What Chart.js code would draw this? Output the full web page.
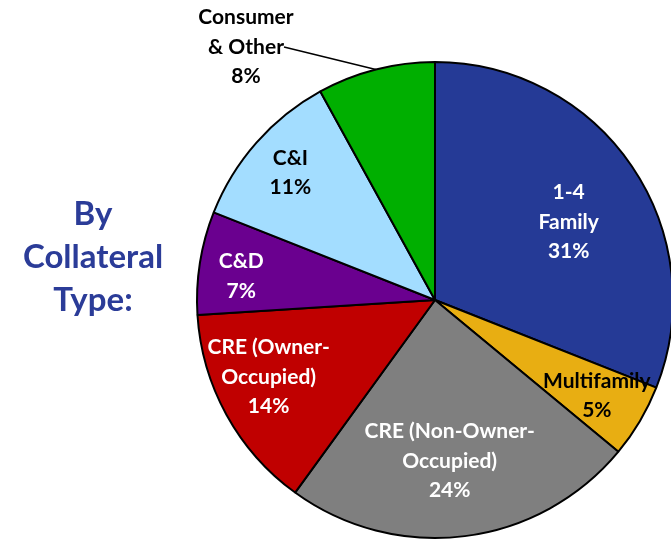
<!DOCTYPE html>
<html>
<head>
<meta charset="utf-8">
<script src="https://cdn.jsdelivr.net/npm/chart.js@4"></script>
<style>
    html, body { margin: 0; padding: 0; background: #ffffff; overflow: hidden; }
    #wrap { width: 680px; height: 540px; }
</style>
</head>
<body>
<div id="wrap"><canvas id="myChart" width="680" height="540"></canvas></div>
<script>
// slice data, clockwise from 12 o'clock
var labels = [['1-4', 'Family'], ['Multifamily'], ['CRE (Non-Owner-', 'Occupied)'], ['CRE (Owner-', 'Occupied)'], ['C&D'], ['C&I'], ['Consumer', '& Other']];
var shares = [31, 5, 24, 14, 7, 11, 8];
var sliceColors = ['#253A96', '#E8AE12', '#7F7F7F', '#C00000', '#6A008F', '#A3DDFF', '#00AF00'];
var textColors = ['#ffffff', '#000000', '#ffffff', '#ffffff', '#ffffff', '#000000', '#000000'];
var labelRadius = [0.65, 0.79, 0.68, 0.77, 0.82, 0.81, 1.0];
var labelTurn = [4, 0, 2, 4, -2, 0, 0];
var titleLines = ['By', 'Collateral', 'Type:'];

var FONT = 'bold 21px Lato, "Open Sans", sans-serif';
var LINE = 29.5;

var sliceLabels = {
    id: 'sliceLabels',
    afterDatasetsDraw: function (chart) {
        var c = chart.ctx;
        var arcs = chart.getDatasetMeta(0).data;
        c.save();
        c.font = FONT;
        c.textAlign = 'center';
        c.textBaseline = 'middle';
        arcs.forEach(function (arc, i) {
            var p = arc.getProps(['x', 'y', 'startAngle', 'endAngle', 'outerRadius']);
            var mid = (p.startAngle + p.endAngle) / 2 + labelTurn[i] * Math.PI / 180;
            var lines = labels[i].concat([shares[i] + '%']);
            var cx, cy;
            if (i === labels.length - 1) {
                // outside label with leader line
                var ex = p.x + Math.cos(mid) * p.outerRadius;
                var ey = p.y + Math.sin(mid) * p.outerRadius;
                cx = 246; cy = 47;
                c.strokeStyle = '#000000';
                c.lineWidth = 1.5;
                c.beginPath();
                c.moveTo(ex, ey);
                c.lineTo(cx + 38, cy);
                c.stroke();
            } else {
                var r = p.outerRadius * labelRadius[i];
                cx = p.x + Math.cos(mid) * r;
                cy = p.y + Math.sin(mid) * r;
            }
            c.fillStyle = textColors[i];
            var top = cy - (lines.length - 1) * LINE / 2;
            lines.forEach(function (t, k) {
                c.fillText(t, cx, top + k * LINE);
            });
        });

        // side heading
        c.font = 'bold 33px Lato, "Open Sans", sans-serif';
        c.fillStyle = '#2B3C98';
        titleLines.forEach(function (t, k) {
            c.fillText(t, 93, 214 + k * 43);
        });
        c.restore();
    }
};

var ctx = document.getElementById('myChart').getContext('2d');
var myChart = new Chart(ctx, {
    type: 'pie',
    data: {
        labels: labels.map(function (l) { return l.join(' '); }),
        datasets: [{
            data: shares,
            backgroundColor: sliceColors,
            borderColor: '#000000',
            borderWidth: 2
        }]
    },
    options: {
        responsive: false,
        animation: false,
        radius: 238,
        layout: {
            padding: { left: 197, right: 7, top: 62, bottom: 2 }
        },
        plugins: {
            legend: { display: false },
            tooltip: { enabled: false }
        }
    },
    plugins: [sliceLabels]
});
</script>
</body>
</html>
